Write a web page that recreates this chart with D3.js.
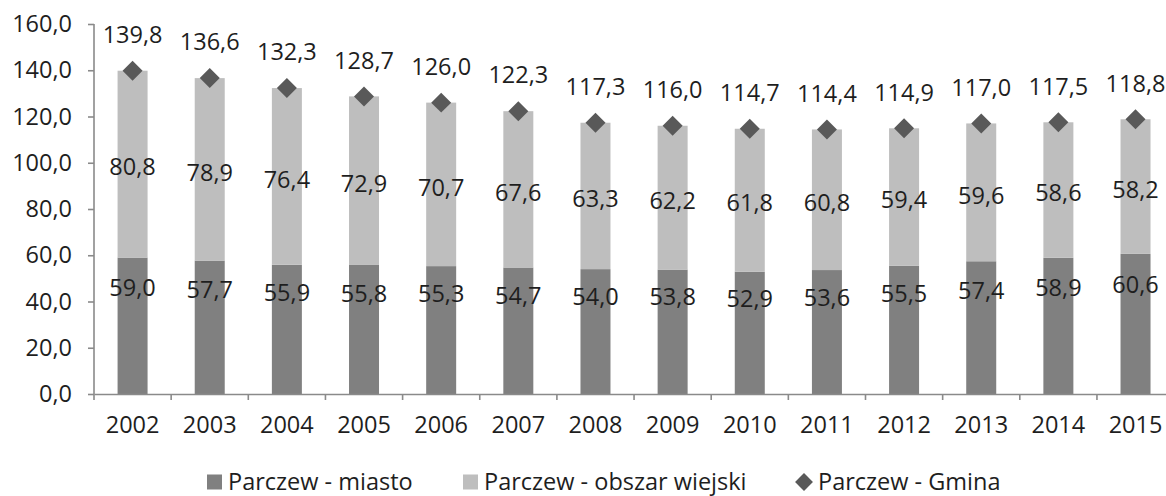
<!DOCTYPE html>
<html>
<head>
<meta charset="utf-8">
<script src="https://cdn.jsdelivr.net/npm/d3@7"></script>
<style>
  body { margin: 0; background: #fff; }
  svg text { font-family: "Open Sans", sans-serif; fill: #1e1e1e; }
</style>
</head>
<body>
<svg id="chart" width="1166" height="496"></svg>
<script>
// data
var years = ["2002", "2003", "2004", "2005", "2006", "2007", "2008", "2009", "2010", "2011", "2012", "2013", "2014", "2015"];
var miasto = [59.0, 57.7, 55.9, 55.8, 55.3, 54.7, 54.0, 53.8, 52.9, 53.6, 55.5, 57.4, 58.9, 60.6];
var wiejski = [80.8, 78.9, 76.4, 72.9, 70.7, 67.6, 63.3, 62.2, 61.8, 60.8, 59.4, 59.6, 58.6, 58.2];
var gmina = [139.8, 136.6, 132.3, 128.7, 126.0, 122.3, 117.3, 116.0, 114.7, 114.4, 114.9, 117.0, 117.5, 118.8];
var y_ticks = [0, 20, 40, 60, 80, 100, 120, 140, 160];
var legend_labels = ["Parczew - miasto", "Parczew - obszar wiejski", "Parczew - Gmina"];

var colors = { miasto: "#808080", wiejski: "#bebebe", gmina: "#595959", axis: "#8a8a8a" };
var font_size = "23.5px";

// --------------------------------------------------------------------------------------
var svg = d3.select("#chart");
var left = 94, top_y = 24, base_y = 394;
var step = 77.15;

var pl = d3.formatLocale({ decimal: ",", thousands: " ", grouping: [3], currency: ["", " zł"] });
var fmt = pl.format(".1f");

var x = d3.scaleBand()
          .domain(years)
          .range([left, left + step * years.length])
          .paddingInner(0)
          .paddingOuter(0);
var y = d3.scaleLinear()
          .domain([0, 160])
          .range([base_y, top_y]);

var bar_w = 30;
var cx = function(i) { return x(years[i]) + x.bandwidth() / 2; };

// ==================================================
// bars
var g = svg.append("g");

g.selectAll(".m")
 .data(miasto)
 .enter()
 .append("rect")
 .attr("x", function(d, i) { return cx(i) - bar_w / 2; })
 .attr("y", function(d) { return y(d); })
 .attr("width", bar_w)
 .attr("height", function(d) { return y(0) - y(d); })
 .style("fill", colors.miasto);

g.selectAll(".w")
 .data(wiejski)
 .enter()
 .append("rect")
 .attr("x", function(d, i) { return cx(i) - bar_w / 2; })
 .attr("y", function(d, i) { return y(miasto[i] + d); })
 .attr("width", bar_w)
 .attr("height", function(d, i) { return y(miasto[i]) - y(miasto[i] + d); })
 .style("fill", colors.wiejski);

// ==================================================
// y axis
var y_axis = svg.append("g")
                .attr("transform", "translate(" + left + ",0)")
                .call(d3.axisLeft(y).tickValues(y_ticks).tickSize(6).tickPadding(16).tickFormat(fmt));
y_axis.selectAll("line, path").style("stroke", colors.axis).style("stroke-width", 1.6);
y_axis.select(".domain").attr("d", "M0," + (top_y) + "V" + base_y);
y_axis.selectAll("text").style("font-size", font_size).style("font-family", "Open Sans").style("fill", "#1e1e1e");

// ==================================================
// x axis
var x_axis = svg.append("g")
                .attr("transform", "translate(0," + base_y + ")")
                .call(d3.axisBottom(x).tickSize(0).tickPadding(22));
x_axis.select(".domain").style("stroke", colors.axis).style("stroke-width", 1.6);
x_axis.selectAll("text").style("font-size", font_size).style("font-family", "Open Sans").style("fill", "#1e1e1e");

x_axis.selectAll(".bnd")
      .data(d3.range(years.length + 1))
      .enter()
      .append("line")
      .attr("x1", function(d) { return left + d * step; })
      .attr("x2", function(d) { return left + d * step; })
      .attr("y1", 0)
      .attr("y2", 6)
      .style("stroke", colors.axis)
      .style("stroke-width", 1.6);

// ==================================================
// gmina markers
var diamond = d3.symbol().type(d3.symbolSquare).size(200);

svg.selectAll(".gm")
   .data(gmina)
   .enter()
   .append("path")
   .attr("d", diamond)
   .attr("transform", function(d, i) { return "translate(" + cx(i) + "," + y(d) + ") rotate(45)"; })
   .style("fill", colors.gmina);

// ==================================================
// labels
var labels = svg.append("g").style("font-size", font_size).attr("text-anchor", "middle");

labels.selectAll(".lm")
      .data(miasto)
      .enter()
      .append("text")
      .attr("x", function(d, i) { return cx(i); })
      .attr("y", function(d) { return y(d * 0.78); })
      .attr("dy", "0.35em")
      .text(fmt);

labels.selectAll(".lw")
      .data(wiejski)
      .enter()
      .append("text")
      .attr("x", function(d, i) { return cx(i); })
      .attr("y", function(d, i) { return y(miasto[i] + d / 2) + 3; })
      .attr("dy", "0.35em")
      .text(fmt);

labels.selectAll(".lg")
      .data(gmina)
      .enter()
      .append("text")
      .attr("x", function(d, i) { return cx(i); })
      .attr("y", function(d) { return y(d) - 36; })
      .attr("dy", "0.35em")
      .text(fmt);

// ==================================================
// legend
var legend_y = 482;
var legend_x = [207, 463, 795];

var legend = svg.append("g")
                .selectAll(".legend")
                .data(legend_labels)
                .enter()
                .append("g")
                .attr("transform", function(d, i) { return "translate(" + legend_x[i] + "," + legend_y + ")"; });

legend.each(function(d, i) {
  var el = d3.select(this);
  if(i < 2)
    el.append("rect")
      .attr("x", 0).attr("y", -7.5)
      .attr("width", 15).attr("height", 15)
      .style("fill", i == 0 ? colors.miasto : colors.wiejski);
  else
    el.append("path")
      .attr("d", d3.symbol().type(d3.symbolSquare).size(160))
      .attr("transform", "translate(9,0) rotate(45)")
      .style("fill", colors.gmina);
});

legend.append("text")
      .attr("x", function(d, i) { return i < 2 ? 21 : 23; })
      .attr("y", 0)
      .attr("dy", "0.35em")
      .style("font-size", font_size)
      .text(function(d) { return d; });
</script>
</body>
</html>
